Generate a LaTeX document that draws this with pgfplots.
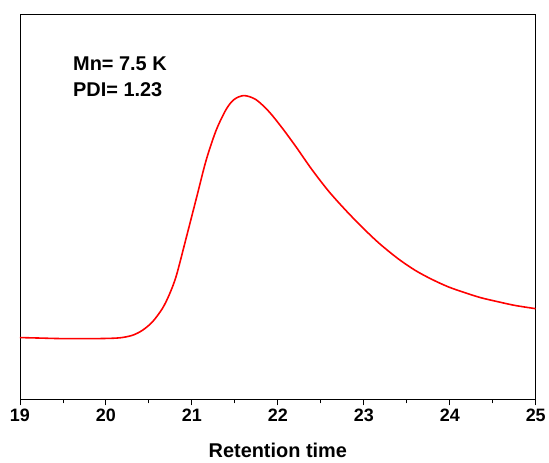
\documentclass[border=0pt]{standalone}
\usepackage{fontspec}
\setmainfont{Liberation Sans}
\usepackage{pgfplots}
\pgfplotsset{compat=1.18}

\begin{document}
\begin{tikzpicture}
\begin{axis}[
  scale only axis,
  width=518bp, height=387bp,
  xmin=19, xmax=25,
  ymin=0, ymax=387,
  ytick=\empty,
  xtick={19,20,21,22,23,24,25},
  minor x tick num=1,
  tick align=outside,
  xtick pos=bottom,
  major tick length=6bp,
  minor tick length=4bp,
  tick style={black, line width=0.8bp},
  axis line style={black, line width=0.8bp},
  /pgf/number format/assume math mode=true,
  xticklabel style={font=\fontsize{18bp}{20bp}\selectfont\bfseries},
  xlabel={Retention time},
  xlabel style={font=\fontsize{20bp}{22bp}\selectfont\bfseries,
    at={(axis description cs:0.5,0)}, anchor=base, yshift=-58bp},
]
  % GPC trace (y = distance above the bottom of the box)
  \addplot[red, line width=1.6bp, smooth] coordinates {
    (19.000,62) (19.232,61.5) (19.463,61) (19.695,61) (19.927,61)
    (20.158,61.7) (20.309,64.3) (20.425,69.3) (20.541,77.7) (20.656,91)
    (20.737,105) (20.819,124) (20.934,162) (21.050,201) (21.166,240)
    (21.282,270) (21.398,291) (21.490,301) (21.606,305) (21.745,301)
    (21.896,289) (22.046,273) (22.208,254) (22.394,231) (22.591,209)
    (22.788,190) (22.985,172.5) (23.181,156.5) (23.402,141) (23.598,129.5)
    (23.784,120.8) (23.981,113) (24.178,107) (24.363,102) (24.560,98)
    (24.757,94.3) (25.000,91)
  };
  \node[anchor=base west, font=\fontsize{20bp}{22bp}\selectfont\bfseries]
    at (rel axis cs:0.0965,0.8535) {Mn= 7.5 K};
  \node[anchor=base west, font=\fontsize{20bp}{22bp}\selectfont\bfseries]
    at (rel axis cs:0.0965,0.7855) {PDI= 1.23};
  \coordinate (sw) at (rel axis cs:0,0);
  \coordinate (ne) at (rel axis cs:1,1);
\end{axis}
\path ([xshift=-20bp,yshift=-63bp]sw) rectangle ([xshift=11bp,yshift=14bp]ne);
\end{tikzpicture}
\end{document}
